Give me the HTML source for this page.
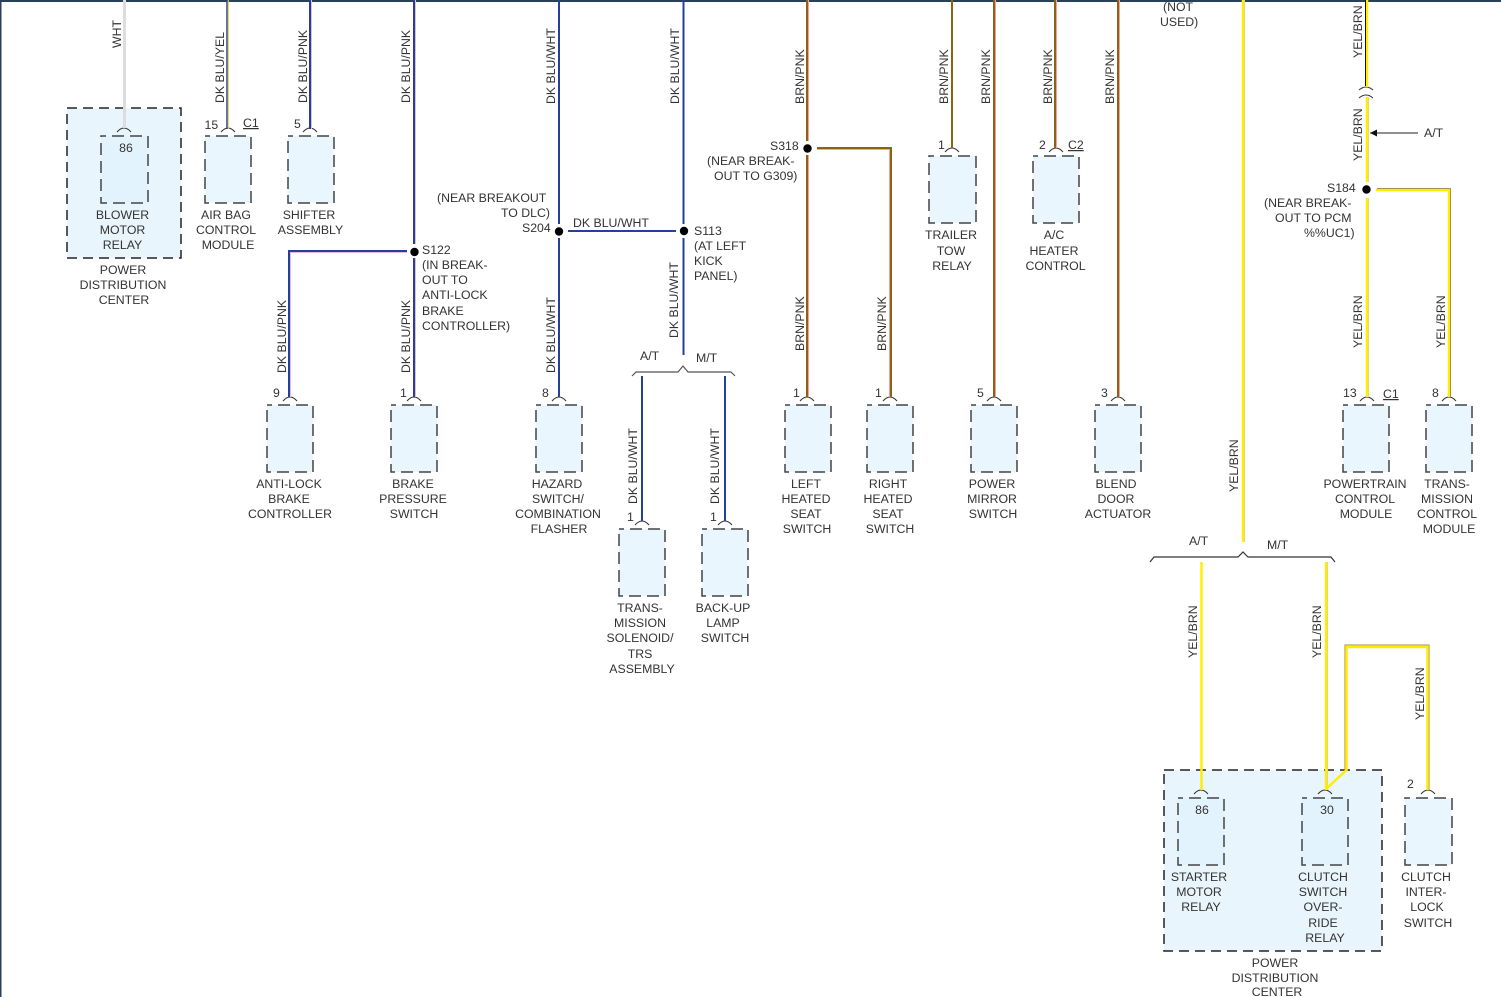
<!DOCTYPE html>
<html><head><meta charset="utf-8"><style>
html,body{margin:0;padding:0;background:#fff;width:1501px;height:997px;overflow:hidden}
svg{display:block}
text{font-family:"Liberation Sans",sans-serif;font-size:12.3px;fill:#333}
.m{text-anchor:middle}.e{text-anchor:end}
.b{fill:#e9f6fe;stroke:#444;stroke-width:1.5;stroke-dasharray:12 6;stroke-dashoffset:7}
.o{fill:#e8f5fd;stroke:#222;stroke-width:1.5;stroke-dasharray:10 6;stroke-dashoffset:0}
.a{fill:none;stroke:#333;stroke-width:1}
</style></head><body>
<svg width="1501" height="997" viewBox="0 0 1501 997">
<rect x="0" y="0" width="1501" height="2" fill="#2a4058"/>
<rect x="0" y="0" width="1.500" height="997" fill="#2a4058"/>

<rect class="o" x="67" y="108" width="114" height="150"/>
<rect class="o" x="1164" y="770" width="218" height="181"/>

<rect class="b" x="101" y="136" width="47" height="67" style="fill:#e2f3fd"/>
<rect class="b" x="205" y="136" width="46" height="67"/>
<rect class="b" x="288" y="136" width="46" height="67"/>
<rect class="b" x="267" y="405" width="46" height="67"/>
<rect class="b" x="391" y="405" width="46" height="67"/>
<rect class="b" x="536" y="405" width="46" height="67"/>
<rect class="b" x="619" y="529" width="46" height="67"/>
<rect class="b" x="702" y="529" width="46" height="67"/>
<rect class="b" x="785" y="405" width="46" height="67"/>
<rect class="b" x="867" y="405" width="46" height="67"/>
<rect class="b" x="971" y="405" width="46" height="67"/>
<rect class="b" x="1095" y="405" width="46" height="67"/>
<rect class="b" x="1343" y="405" width="46" height="67"/>
<rect class="b" x="1426" y="405" width="46" height="67"/>
<rect class="b" x="929" y="156" width="47" height="67"/>
<rect class="b" x="1033" y="156" width="46" height="67"/>
<rect class="b" x="1178" y="798" width="46" height="67" style="fill:#e2f3fd"/>
<rect class="b" x="1302" y="798" width="46" height="67" style="fill:#e2f3fd"/>
<rect class="b" x="1405" y="798" width="47" height="67"/>

<path class="a" d="M117 132q7-8 14 0M221 132q7-8 14 0M303 132q7-8 14 0M283 401q7-8 14 0M407 401q7-8 14 0M552 401q7-8 14 0M635 525q7-8 14 0M718 525q7-8 14 0M800 401q7-8 14 0M883 401q7-8 14 0M987 401q7-8 14 0M1111 401q7-8 14 0M1360 401q7-8 14 0M1442 401q7-8 14 0M945 152q7-8 14 0M1049 152q7-8 14 0M1194 794q7-8 14 0M1318 794q7-8 14 0M1421 794q7-8 14 0M1359 90q7-6 14 0M1359 98q7-6 14 0"/>

<path d="M124.500 0V128" fill="none" stroke="#ddd" stroke-width="3"/>

<!-- DK BLU/YEL -->
<path fill="none" stroke="#23409a" stroke-width="1.500" d="M227 0V129"/><path fill="none" stroke="#e8d820" stroke-width="1" d="M228.300 0V129"/>
<!-- DK BLU/PNK -->
<path fill="none" stroke="#23409a" stroke-width="2" d="M310 0V129M414 0V244M414 258V397M407 251H289V397"/>
<path fill="none" stroke="#e8b8d4" stroke-width="1" d="M311.500 0V129M415.500 0V244M415.500 258V397M407 252.500H290.500V397"/>
<!-- DK BLU/WHT -->
<path fill="none" stroke="#23409a" stroke-width="2" d="M559 0V224M559 238V397M568 231H676M683.500 0V224M683.500 238V355M642 376V521M725 376V521"/>

<!-- BRN/PNK -->
<path fill="none" stroke="#8a6414" stroke-width="2" d="M807 0V141M807 155V397M817 148H891V397M994 0V397M1055 0V148M1118 0V397M952 0V148"/>
<path fill="none" stroke="#f4a0a0" stroke-width="1" d="M808.500 0V141M808.500 155V397M817 149.500H889.500V397M995.500 0V397M1056.500 0V148M1119.500 0V397"/>

<!-- YEL/BRN -->
<path fill="none" stroke="#d8d0a8" stroke-width="1" d="M1244.500 0V542M1327.500 562V790M1368.500 97V182M1368.500 198V397"/>
<path fill="none" stroke="#ffee00" stroke-width="2.500" d="M1243 0V542M1201.500 562V790M1326 562V790M1367 0V87M1367 97V182M1367 198V397M1376 190H1449V397"/>
<path fill="none" stroke="#a89058" stroke-width="1" d="M1377 188.500H1450.500V397"/>
<path fill="none" stroke="#a88a50" stroke-width="1" d="M1345 770V645H1429V790"/>
<path fill="none" stroke="#ffee00" stroke-width="2.500" d="M1326 789L1346.500 770V647H1427.500V790"/>
<path fill="none" stroke="#111" stroke-width="1" d="M1365.500 0V86"/>

<circle cx="414.500" cy="252" r="4.200" fill="#000"/>
<circle cx="559" cy="231.500" r="4.200" fill="#000"/>
<circle cx="684" cy="231" r="4.200" fill="#000"/>
<circle cx="807.500" cy="148.500" r="4.200" fill="#000"/>
<circle cx="1366.500" cy="189.500" r="4.200" fill="#000"/>

<path fill="none" stroke="#555" stroke-width="1.200" d="M632 376L636 372H678L683 366L688 372H731L735 376"/>
<path fill="none" stroke="#333" stroke-width="1.200" d="M1150 562L1154 557H1238L1243 552L1248 557H1331L1335 562"/>
<path d="M1370 133H1418" stroke="#222" stroke-width="1"/><path d="M1370 133L1377 129.500V136.500Z" fill="#111"/>

<text transform="translate(121,48) rotate(-90)">WHT</text>
<text transform="translate(224,103) rotate(-90)">DK BLU/YEL</text>
<text transform="translate(307,103) rotate(-90)">DK BLU/PNK</text>
<text transform="translate(410,103) rotate(-90)">DK BLU/PNK</text>
<text transform="translate(555,104) rotate(-90)">DK BLU/WHT</text>
<text transform="translate(679,104) rotate(-90)">DK BLU/WHT</text>
<text transform="translate(804,104) rotate(-90)">BRN/PNK</text>
<text transform="translate(948,104) rotate(-90)">BRN/PNK</text>
<text transform="translate(990,104) rotate(-90)">BRN/PNK</text>
<text transform="translate(1052,104) rotate(-90)">BRN/PNK</text>
<text transform="translate(1114,104) rotate(-90)">BRN/PNK</text>
<text transform="translate(1362,58) rotate(-90)">YEL/BRN</text>
<text transform="translate(1362,161) rotate(-90)">YEL/BRN</text>
<text transform="translate(286,373) rotate(-90)">DK BLU/PNK</text>
<text transform="translate(410,373) rotate(-90)">DK BLU/PNK</text>
<text transform="translate(555,373) rotate(-90)">DK BLU/WHT</text>
<text transform="translate(678,338) rotate(-90)">DK BLU/WHT</text>
<text transform="translate(637,504) rotate(-90)">DK BLU/WHT</text>
<text transform="translate(719,504) rotate(-90)">DK BLU/WHT</text>
<text transform="translate(804,351) rotate(-90)">BRN/PNK</text>
<text transform="translate(886,351) rotate(-90)">BRN/PNK</text>
<text transform="translate(1362,348) rotate(-90)">YEL/BRN</text>
<text transform="translate(1445,348) rotate(-90)">YEL/BRN</text>
<text transform="translate(1238,492) rotate(-90)">YEL/BRN</text>
<text transform="translate(1197,658) rotate(-90)">YEL/BRN</text>
<text transform="translate(1321,658) rotate(-90)">YEL/BRN</text>
<text transform="translate(1424,720) rotate(-90)">YEL/BRN</text>

<text x="126" y="152" class="m">86</text>
<text x="204.500" y="129">15</text>
<text x="243" y="127" text-decoration="underline">C1</text>
<text x="294" y="128">5</text>
<text x="273" y="397">9</text>
<text x="400" y="397">1</text>
<text x="542" y="397">8</text>
<text x="627" y="521">1</text>
<text x="710" y="521">1</text>
<text x="793" y="397">1</text>
<text x="875" y="397">1</text>
<text x="977" y="397">5</text>
<text x="1101" y="397">3</text>
<text x="1343" y="397">13</text>
<text x="1383" y="398" text-decoration="underline">C1</text>
<text x="1432" y="397">8</text>
<text x="938" y="149">1</text>
<text x="1039" y="149">2</text>
<text x="1068" y="149" text-decoration="underline">C2</text>
<text x="1202" y="814" class="m">86</text>
<text x="1327" y="814" class="m">30</text>
<text x="1407" y="788">2</text>

<text class="m" x="122.500" y="219">BLOWER</text><text class="m" x="122.500" y="234">MOTOR</text><text class="m" x="122.500" y="249">RELAY</text>
<text class="m" x="123" y="274">POWER</text><text class="m" x="123" y="289">DISTRIBUTION</text><text class="m" x="124" y="304">CENTER</text>
<text class="m" x="226" y="219">AIR BAG</text><text class="m" x="226" y="234">CONTROL</text><text class="m" x="228" y="249">MODULE</text>
<text class="m" x="309" y="219">SHIFTER</text><text class="m" x="310.500" y="234">ASSEMBLY</text>
<text class="m" x="289" y="488">ANTI-LOCK</text><text class="m" x="289" y="503">BRAKE</text><text class="m" x="290" y="518">CONTROLLER</text>
<text class="m" x="413" y="488">BRAKE</text><text class="m" x="413" y="503">PRESSURE</text><text class="m" x="414" y="518">SWITCH</text>
<text class="m" x="557" y="488">HAZARD</text><text class="m" x="558" y="503">SWITCH/</text><text class="m" x="558" y="518">COMBINATION</text><text class="m" x="559" y="533">FLASHER</text>
<text class="m" x="640" y="612">TRANS-</text><text class="m" x="640" y="627">MISSION</text><text class="m" x="640" y="642">SOLENOID/</text><text class="m" x="640" y="658">TRS</text><text class="m" x="642" y="673">ASSEMBLY</text>
<text class="m" x="723" y="612">BACK-UP</text><text class="m" x="723" y="627">LAMP</text><text class="m" x="725" y="642">SWITCH</text>
<text class="m" x="806" y="488">LEFT</text><text class="m" x="806" y="503">HEATED</text><text class="m" x="806" y="518">SEAT</text><text class="m" x="807" y="533">SWITCH</text>
<text class="m" x="888" y="488">RIGHT</text><text class="m" x="888" y="503">HEATED</text><text class="m" x="888" y="518">SEAT</text><text class="m" x="890" y="533">SWITCH</text>
<text class="m" x="992" y="488">POWER</text><text class="m" x="992" y="503">MIRROR</text><text class="m" x="993" y="518">SWITCH</text>
<text class="m" x="1116" y="488">BLEND</text><text class="m" x="1116" y="503">DOOR</text><text class="m" x="1118" y="518">ACTUATOR</text>
<text class="m" x="1365" y="488">POWERTRAIN</text><text class="m" x="1365" y="503">CONTROL</text><text class="m" x="1366" y="518">MODULE</text>
<text class="m" x="1447" y="488">TRANS-</text><text class="m" x="1447" y="503">MISSION</text><text class="m" x="1447" y="518">CONTROL</text><text class="m" x="1449" y="533">MODULE</text>
<text class="m" x="951" y="239">TRAILER</text><text class="m" x="951" y="255">TOW</text><text class="m" x="952" y="270">RELAY</text>
<text class="m" x="1054" y="239">A/C</text><text class="m" x="1054" y="255">HEATER</text><text class="m" x="1055.500" y="270">CONTROL</text>
<text class="m" x="1199" y="881">STARTER</text><text class="m" x="1199" y="896">MOTOR</text><text class="m" x="1201" y="911">RELAY</text>
<text class="m" x="1323" y="881">CLUTCH</text><text class="m" x="1323" y="896">SWITCH</text><text class="m" x="1323" y="911">OVER-</text><text class="m" x="1323" y="927">RIDE</text><text class="m" x="1325" y="942">RELAY</text>
<text class="m" x="1426" y="881">CLUTCH</text><text class="m" x="1426" y="896">INTER-</text><text class="m" x="1427" y="911">LOCK</text><text class="m" x="1428" y="927">SWITCH</text>
<text class="m" x="1275" y="967">POWER</text><text class="m" x="1275" y="982">DISTRIBUTION</text><text class="m" x="1277" y="996">CENTER</text>

<text x="422" y="254">S122</text><text x="422" y="269">(IN BREAK-</text><text x="422" y="284">OUT TO</text><text x="422" y="299">ANTI-LOCK</text><text x="422" y="315">BRAKE</text><text x="422" y="330">CONTROLLER)</text>
<text x="437" y="202">(NEAR BREAKOUT</text><text x="501" y="217">TO DLC)</text><text x="522" y="232">S204</text>
<text x="573" y="227">DK BLU/WHT</text>
<text x="694" y="235">S113</text><text x="694" y="250">(AT LEFT</text><text x="694" y="265">KICK</text><text x="694" y="280">PANEL)</text>
<text x="640" y="360">A/T</text><text x="696" y="362">M/T</text>
<text x="770" y="150">S318</text><text x="707" y="165">(NEAR BREAK-</text><text x="714" y="180">OUT TO G309)</text>
<text x="1163" y="11">(NOT</text><text x="1160" y="26">USED)</text>
<text x="1424" y="137">A/T</text>
<text x="1327" y="192">S184</text><text x="1264" y="207">(NEAR BREAK-</text><text x="1275" y="222">OUT TO PCM</text><text x="1304" y="237">%%UC1)</text>
<text x="1189" y="545">A/T</text><text x="1267" y="549">M/T</text>
</svg>
</body></html>
